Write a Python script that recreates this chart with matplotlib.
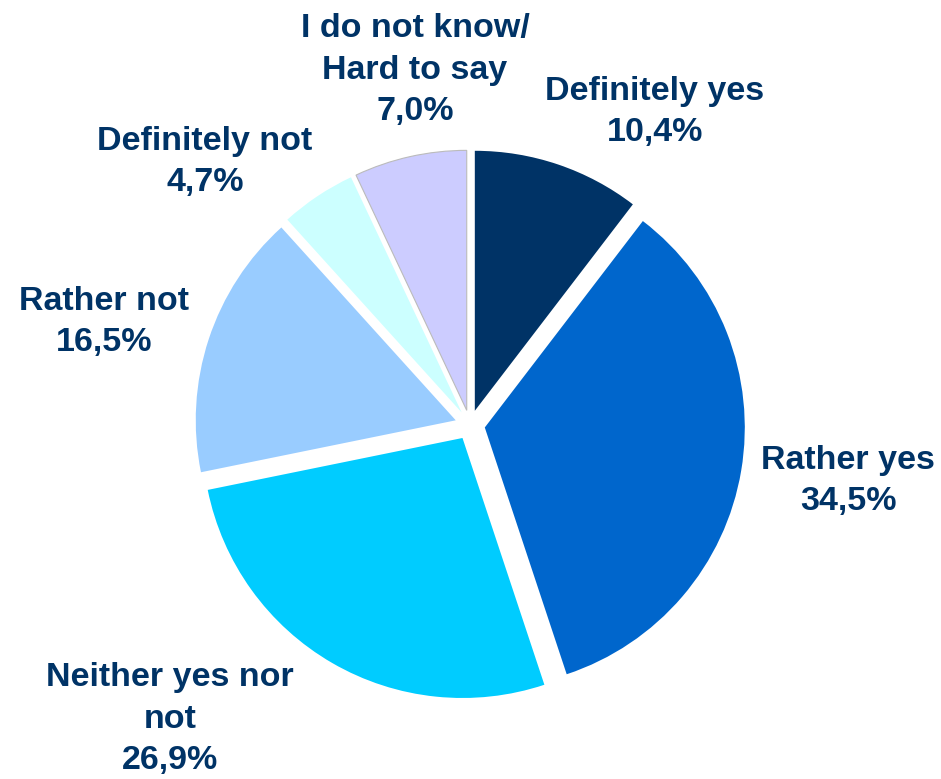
import matplotlib.pyplot as plt

labels = ['Definitely yes', 'Rather yes', 'Neither yes nor\nnot', 'Rather not',
          'Definitely not', 'I do not know/\nHard to say']
values = [10.4, 34.5, 26.9, 16.5, 4.7, 7.0]
colors = ['#003366', '#0066CC', '#00CCFF', '#99CCFF', '#CCFFFF', '#CCCCFF']
# label centres in pixel coords (x, y from top)
label_pos = [(655, 112), (848, 481), (170, 719), (104, 322), (205, 162), (415, 70)]

W, H = 941, 779
fig = plt.figure(figsize=(W / 100, H / 100), dpi=100)
ax = fig.add_axes([0, 0, 1, 1])

# explode is in data units here (pixels)
wedges, _ = ax.pie(values, colors=colors, startangle=90, counterclock=False,
                   center=(470, H - 425), radius=260, explode=[15] * 6,
                   wedgeprops=dict(linewidth=0))
wedges[5].set_edgecolor('#BBBBBB')
wedges[5].set_linewidth(0.8)

# pie resets limits, so set pixel limits afterwards
ax.set_xlim(0, W)
ax.set_ylim(0, H)
ax.set_aspect('equal')
ax.axis('off')

for lab, v, (x, y) in zip(labels, values, label_pos):
    txt = lab + '\n' + ('%.1f%%' % v).replace('.', ',')
    ax.text(x, H - y, txt, ha='center', va='center', fontsize=24.5,
            fontweight='bold', color='#003366', family='Liberation Sans',
            linespacing=1.45)

fig.savefig('out.png', dpi=100)
